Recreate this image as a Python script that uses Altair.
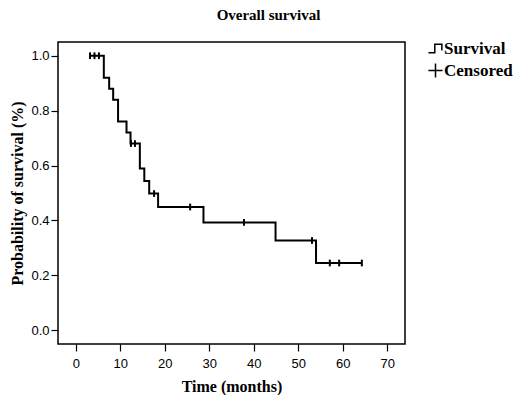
import altair as alt
import pandas as pd

# Kaplan-Meier step curve (time in months, survival probability)
step_time = [3.2, 6.3, 7.5, 8.4, 9.5, 11.4, 12.3, 14.4, 15.4, 16.5, 18.5, 28.7, 44.9, 54.0, 64.3]
step_surv = [1.0, 0.92, 0.88, 0.84, 0.76, 0.72, 0.68, 0.589, 0.544, 0.498, 0.449, 0.393, 0.327, 0.245, 0.245]

# Censored observations
cens_time = [3.2, 4.2, 5.2, 12.4, 13.3, 17.6, 25.7, 37.8, 53.1, 57.1, 59.2, 64.3]
cens_surv = [1.0, 1.0, 1.0, 0.68, 0.68, 0.498, 0.449, 0.393, 0.327, 0.245, 0.245, 0.245]

legend_items = ["Survival", "Censored"]
x_ticks = [0, 10, 20, 30, 40, 50, 60, 70]
y_ticks = [0.0, 0.2, 0.4, 0.6, 0.8, 1.0]

step_df = pd.DataFrame({"time": step_time, "surv": step_surv})
cens_df = pd.DataFrame({"time": cens_time, "surv": cens_surv})
leg_df = pd.DataFrame({"item": legend_items})

STEP_PATH = "M-1,0.6H-0.1V-0.6H0.9V0.3"
PLUS_PATH = "M-1,0H1M0,-1V1"

x_enc = alt.X(
    "time:Q",
    scale=alt.Scale(domain=[-4, 74], nice=False, zero=False),
    axis=alt.Axis(values=x_ticks, title="Time (months)", format="d",
                  labelPadding=6, titlePadding=8),
)
y_enc = alt.Y(
    "surv:Q",
    scale=alt.Scale(domain=[-0.05, 1.05], nice=False, zero=False),
    axis=alt.Axis(values=y_ticks, title="Probability of survival (%)", format=".1f",
                  labelPadding=2, titlePadding=5),
)

line = alt.Chart(step_df).mark_line(
    interpolate="step-after", color="black", strokeWidth=2
).encode(x=x_enc, y=y_enc)

cens = alt.Chart(cens_df).mark_point(
    shape="M0,-1V1", size=45, color="black", strokeWidth=2, filled=False, opacity=1
).encode(x="time:Q", y="surv:Q")

leg = alt.Chart(leg_df).mark_point(
    filled=False, color="black", strokeWidth=1.5, clip=True, opacity=1
).encode(
    x=alt.value(-300),
    y=alt.value(-300),
    shape=alt.Shape(
        "item:N",
        sort=legend_items,
        scale=alt.Scale(domain=legend_items, range=[STEP_PATH, PLUS_PATH]),
        legend=alt.Legend(
            title=None, orient="none", legendX=369, legendY=-2,
            symbolSize=200, symbolStrokeWidth=1.5, symbolStrokeColor="black",
            symbolFillColor="transparent",
            labelFont="Liberation Serif", labelFontWeight="bold",
            labelFontSize=17, labelColor="black", rowPadding=3, labelOffset=0,
        ),
    ),
)

chart = alt.layer(line, cens, leg).properties(
    width=347,
    height=302,
    autosize=alt.AutoSizeParams(type="none"),
    padding={"left": 50, "top": 34, "right": 118, "bottom": 51},
    title=alt.TitleParams(
        "Overall survival", font="Liberation Serif", fontWeight="bold",
        fontSize=15, color="black", anchor="middle", dx=37, offset=17,
    ),
).configure_view(
    stroke="black", strokeWidth=1.5
).configure_axis(
    domain=False, grid=False, tickColor="black", tickSize=7, tickWidth=1.2,
    labelFont="Liberation Sans", labelFontSize=13, labelColor="black",
    titleFont="Liberation Serif", titleFontWeight="bold", titleFontSize=16,
    titleColor="black",
)

chart.save("out.html", embed_options={"renderer": "svg", "actions": False})
